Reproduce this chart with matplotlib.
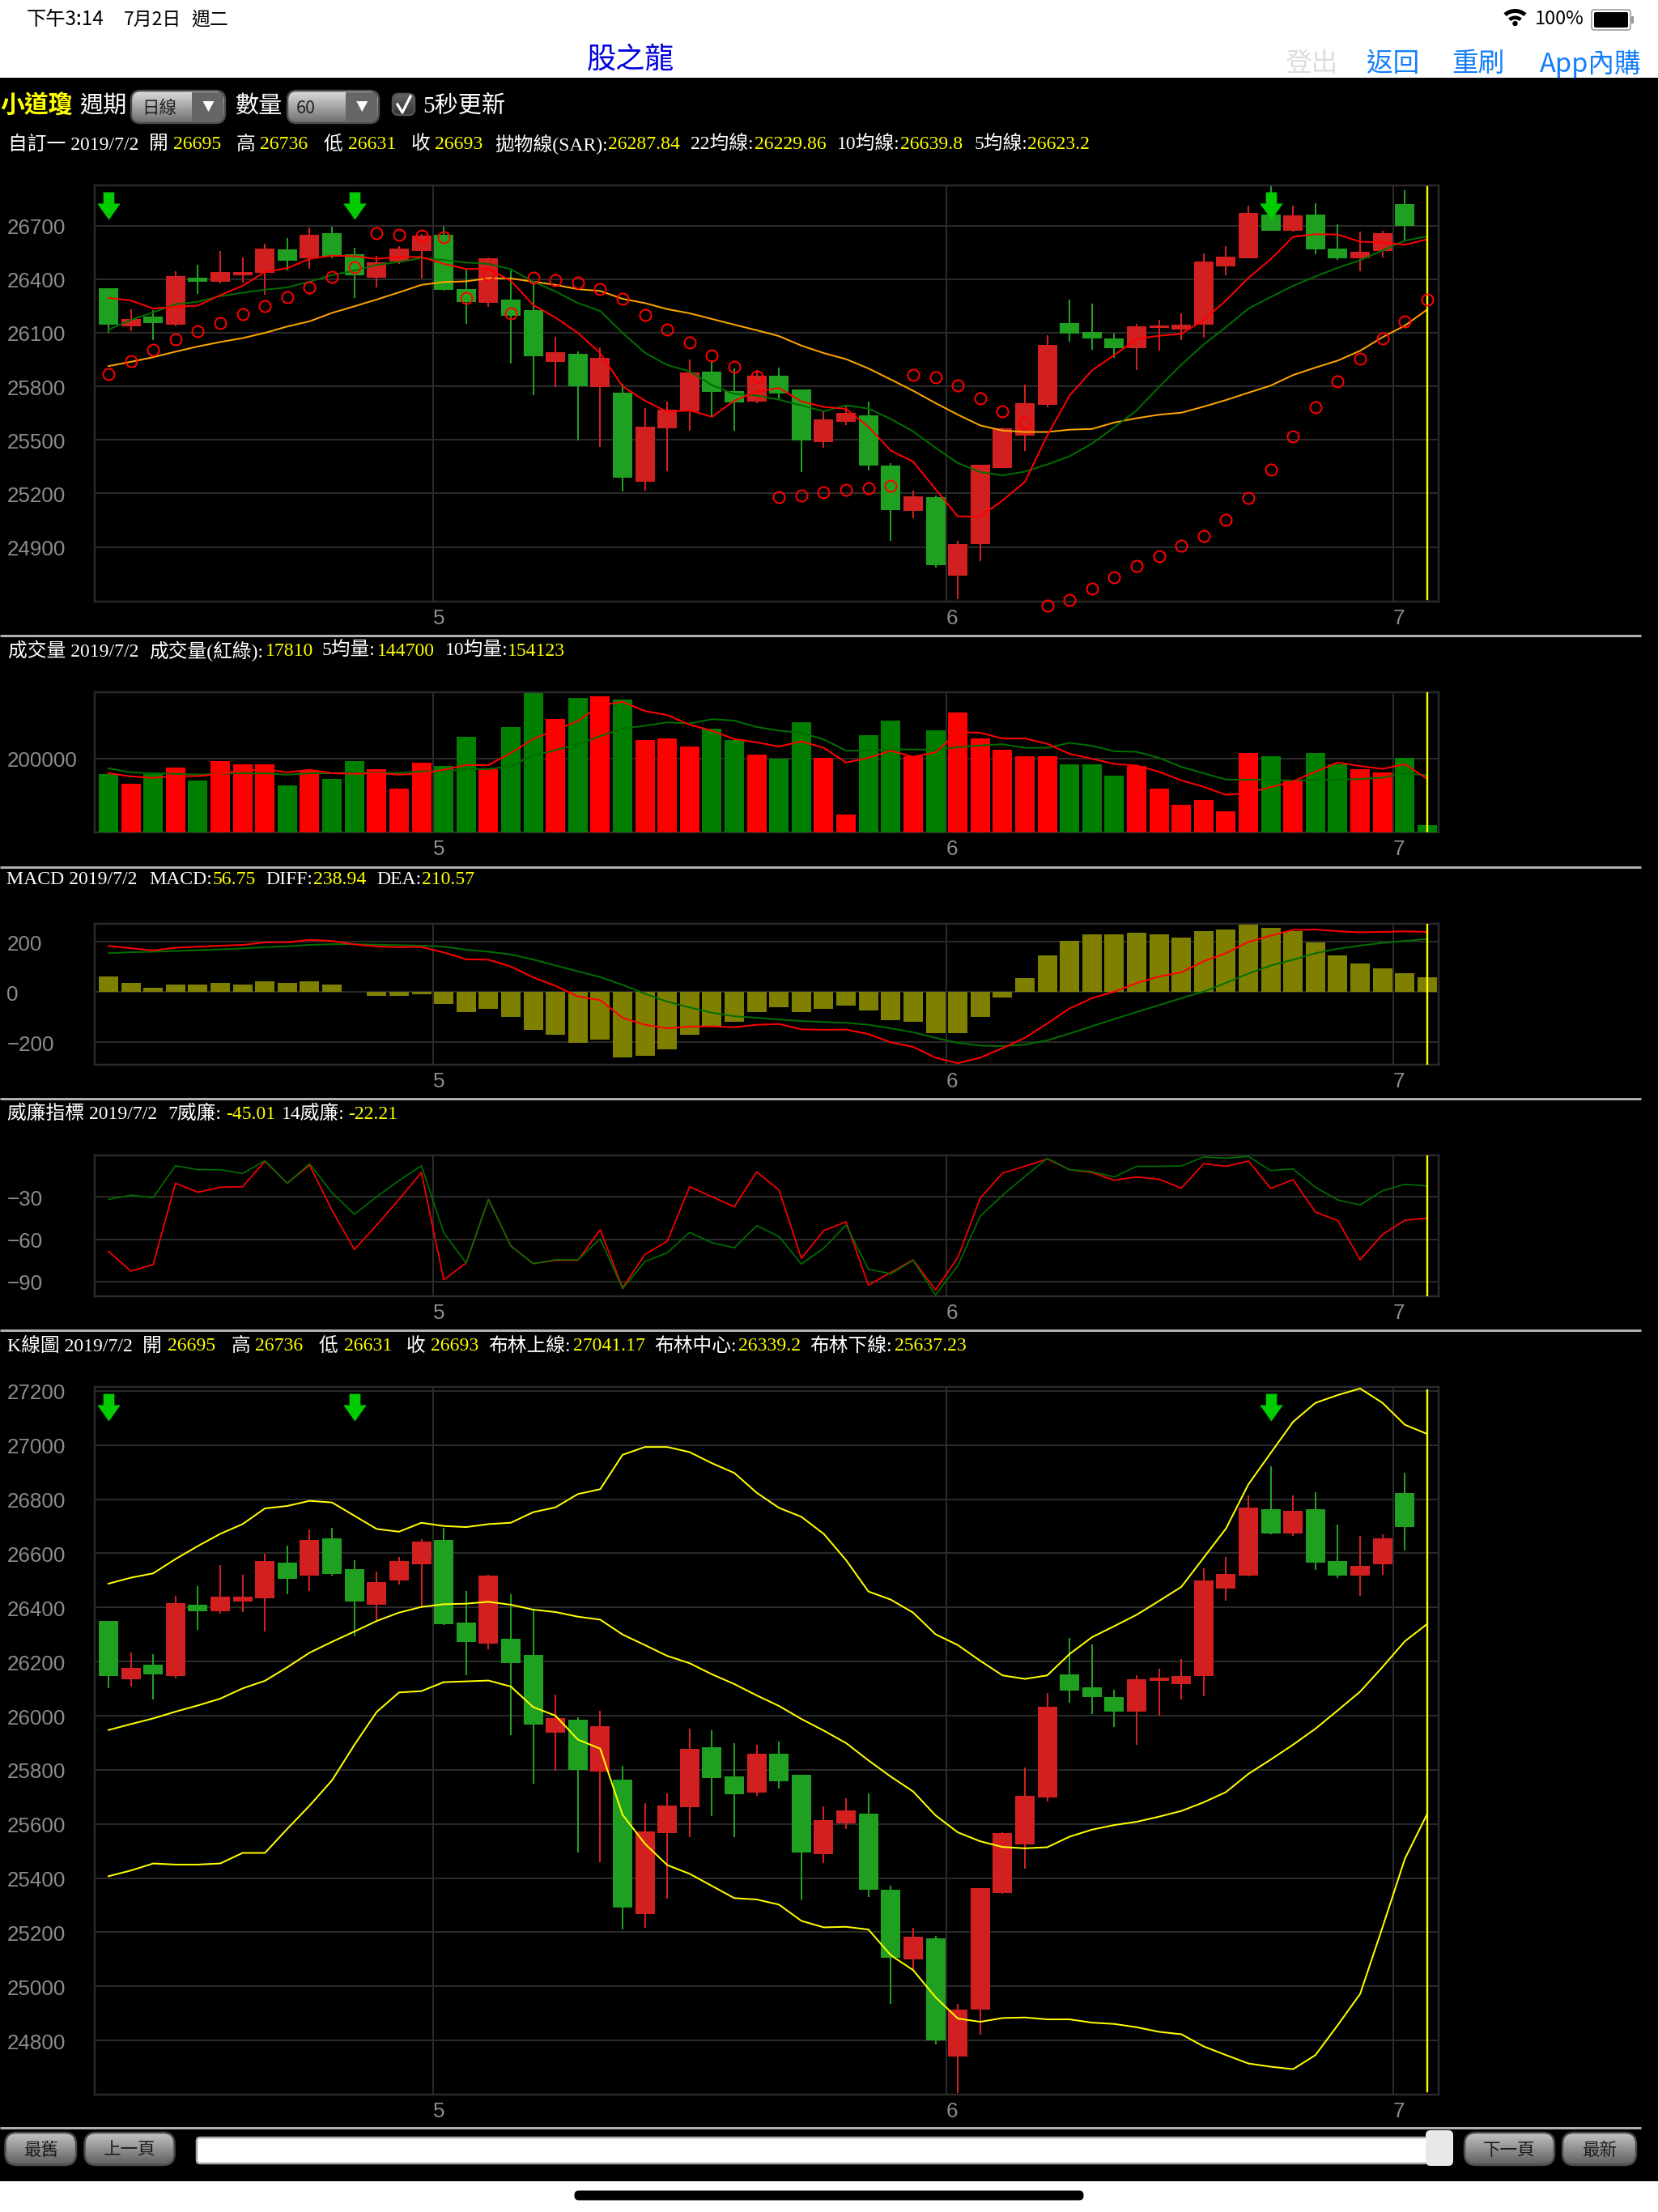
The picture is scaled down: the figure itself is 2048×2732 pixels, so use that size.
import numpy as np
import matplotlib
matplotlib.use('Agg')
import matplotlib.pyplot as plt
from matplotlib.colors import LinearSegmentedColormap
from matplotlib.patches import FancyBboxPatch, Polygon, Rectangle, Wedge, Circle
from matplotlib.path import Path
from matplotlib.transforms import ScaledTranslation

plt.rcParams['font.family'] = ['Liberation Serif', 'Noto Sans CJK TC', 'DejaVu Sans']

# 道瓊日線，最後一根為盤中
last_open, last_high, last_low, last_close = 26695, 26736, 26631, 26693

opens = [26350, 26134, 26189, 26146, 26410, 26386, 26422, 26434, 26565, 26517, 26656, 26541, 26410, 26500, 26560,
         26649, 26343, 26266, 26285, 26225, 25936, 25984, 25794, 25763, 25266, 25565, 25661, 25883, 25775, 25715,
         25859, 25782, 25488, 25601, 25637, 25356, 25100, 25177, 24741, 24914, 25344, 25524, 25697, 26153, 26105,
         26069, 26015, 26129, 26117, 26146, 26471, 26517, 26763, 26673, 26763, 26572, 26517, 26560, 26823]
highs = [26350, 26233, 26227, 26443, 26479, 26556, 26520, 26598, 26629, 26689, 26694, 26575, 26532, 26586, 26653,
         26694, 26460, 26520, 26448, 26390, 26077, 25995, 26017, 25814, 25677, 25713, 25952, 25947, 25898, 25892,
         25904, 25782, 25665, 25694, 25713, 25371, 25216, 25186, 24935, 25362, 25570, 25809, 26084, 26287, 26263,
         26096, 26149, 26173, 26210, 26544, 26586, 26814, 26922, 26814, 26826, 26706, 26665, 26670, 26898]
lows = [26101, 26108, 26060, 26137, 26318, 26378, 26383, 26311, 26448, 26460, 26519, 26294, 26352, 26484, 26402,
        26335, 26149, 26245, 25928, 25749, 25797, 25496, 25460, 25210, 25216, 25323, 25551, 25629, 25551, 25704,
        25730, 25318, 25455, 25582, 25330, 24935, 25060, 24785, 24607, 24821, 25342, 25436, 25682, 26048, 26005,
        25959, 25892, 26000, 26060, 26072, 26424, 26515, 26670, 26665, 26539, 26508, 26443, 26520, 26610]
closes = [26146, 26177, 26153, 26416, 26386, 26440, 26440, 26572, 26505, 26649, 26524, 26422, 26493, 26572, 26644,
          26338, 26273, 26517, 26194, 25967, 25991, 25799, 25960, 25290, 25572, 25668, 25878, 25770, 25709, 25859,
          25758, 25495, 25613, 25649, 25356, 25105, 25182, 24799, 24914, 25362, 25565, 25704, 26032, 26093, 26069,
          26015, 26134, 26141, 26146, 26500, 26524, 26770, 26673, 26757, 26565, 26517, 26553, 26656, 26697]

ma5 = [26295, 26281, 26235, 26245, 26252, 26310, 26363, 26441, 26462, 26514, 26532, 26529, 26514, 26524, 26524,
       26486, 26457, 26459, 26391, 26256, 26185, 26099, 25986, 25800, 25719, 25657, 25665, 25629, 25719, 25770,
       25791, 25715, 25685, 25673, 25573, 25440, 25378, 25224, 25071, 25071, 25160, 25265, 25524, 25748, 25889,
       25975, 26065, 26083, 26094, 26172, 26281, 26407, 26512, 26637, 26652, 26650, 26610, 26605, 26593, 26623.2]
ma10 = [26117, 26172, 26214, 26260, 26273, 26305, 26324, 26341, 26354, 26386, 26423, 26448, 26480, 26496, 26519,
        26507, 26493, 26486, 26456, 26386, 26331, 26266, 26222, 26099, 25988, 25919, 25884, 25806, 25757, 25748,
        25725, 25693, 25660, 25693, 25675, 25617, 25547, 25456, 25370, 25320, 25301, 25322, 25362, 25408, 25479,
        25570, 25665, 25796, 25921, 26034, 26132, 26235, 26300, 26363, 26415, 26464, 26506, 26561, 26616, 26639.8]
ma22 = [25913, 25937, 25963, 25994, 26023, 26048, 26070, 26099, 26135, 26164, 26211, 26248, 26286, 26326, 26368,
        26384, 26388, 26405, 26404, 26386, 26368, 26344, 26334, 26290, 26266, 26232, 26209, 26177, 26145, 26114,
        26081, 26028, 25986, 25952, 25900, 25838, 25775, 25706, 25641, 25581, 25552, 25544, 25544, 25557, 25561,
        25597, 25621, 25641, 25652, 25686, 25723, 25764, 25804, 25863, 25905, 25944, 25999, 26075, 26140, 26229.86]
sar = [25869, 25942, 26005, 26062, 26111, 26154, 26205, 26248, 26299, 26352, 26412, 26465, 26657, 26650, 26644,
       26635, 26297, 26428, 26209, 26410, 26396, 26383, 26346, 26290, 26201, 26120, 26044, 25975, 25910, 25855,
       25178, 25190, 25205, 25218, 25231, 25244, 25866, 25850, 25806, 25732, 25662, 25597, 24572, 24601, 24667,
       24730, 24792, 24850, 24905, 24960, 25053, 25173, 25333, 25519, 25683, 25827, 25953, 26067, 26164, 26287.84]

volume = [157480, 131500, 158270, 175600, 140160, 192900, 184250, 184250, 126770, 166930, 144100, 192900, 170870,
          118110, 188190, 179530, 259050, 170870, 285830, 377950, 307870, 364570, 369290, 360630, 250390, 254330,
          232280, 281100, 250390, 210240, 198420, 298420, 201570, 47240, 263780, 303150, 206300, 276380, 325200,
          254330, 223620, 206300, 206300, 184250, 184250, 153540, 179530, 118110, 74020, 87400, 55910, 214960,
          206300, 140160, 214960, 184250, 170870, 162200, 201570, 17810]
vol_ma5 = [159800, 151200, 147200, 152000, 152000, 158300, 166100, 170900, 162200, 169300, 159800, 158300, 159800,
           155900, 159100, 169300, 181900, 181900, 215000, 252800, 278000, 301600, 344900, 354300, 329100, 318100,
           292100, 275600, 252800, 244100, 232300, 246500, 229100, 189000, 201600, 221300, 204700, 216500, 271700,
           270100, 254300, 254300, 240200, 212600, 199200, 185000, 181100, 163800, 140200, 122800, 100800, 106300,
           122000, 137800, 163800, 189000, 179500, 171700, 184300, 144700]
vol_ma10 = [173200, 162200, 159800, 158300, 155900, 158300, 159800, 159800, 155900, 159800, 159800, 162200, 161400,
            159800, 165400, 165400, 170900, 170900, 179500, 207100, 222800, 238600, 260600, 281900, 289000, 298400,
            295300, 307100, 303100, 285800, 275600, 270100, 252000, 221300, 222000, 225200, 224400, 223600, 230700,
            235400, 238600, 229100, 229100, 242500, 234600, 219700, 218100, 201600, 177200, 159800, 142500, 142500,
            142500, 139400, 142500, 142500, 144100, 148000, 159800, 154123]

macd_hist = [61, 36, 16, 29, 29, 36, 29, 41, 36, 41, 29, 0, -16, -16, -9, -48, -81, -68, -100, -152, -171, -203, -190,
             -262, -255, -229, -171, -138, -120, -81, -61, -81, -68, -55, -74, -113, -120, -165, -165, -100, -23, 55,
             145, 203, 229, 229, 235, 229, 217, 242, 249, 267, 255, 242, 197, 145, 113, 93, 74, 56.75]
macd_diff = [183, 174, 165, 176, 180, 184, 187, 197, 198, 207, 203, 189, 181, 178, 179, 157, 130, 128, 101, 58, 24,
             -18, -33, -103, -131, -145, -138, -137, -141, -131, -128, -149, -151, -150, -168, -201, -219, -262, -284,
             -262, -224, -183, -126, -66, -25, 1, 35, 61, 78, 122, 154, 199, 224, 247, 248, 242, 237, 239, 241, 238.94]
macd_dea = [154, 158, 160, 163, 166, 169, 173, 178, 182, 187, 190, 190, 188, 186, 184, 180, 168, 160, 149, 129, 105,
            82, 59, 28, -7, -39, -62, -83, -97, -103, -110, -116, -120, -123, -131, -145, -161, -183, -203, -214, -216,
            -210, -193, -166, -137, -108, -80, -53, -25, 1, 36, 73, 105, 128, 154, 172, 184, 195, 203, 210.57]

wr7 = [-68.5, -82.5, -77.9, -20.2, -26.6, -23.1, -22.7, -4.7, -20.2, -7.4, -39.4, -67.2, -49.9, -31.7, -12.6, -88.7,
       -76.8, -31.7, -64.7, -77.2, -74.9, -74.9, -53.2, -94.4, -70.6, -61.4, -22.7, -29.8, -36.9, -12.2, -25.0, -73.5,
       -53.8, -47.6, -92.5, -83.5, -74.5, -95.9, -72.9, -30.8, -13.1, -8.2, -3.0, -10.6, -12.6, -18.1, -15.8, -17.4,
       -23.7, -6.4, -8.2, -4.5, -23.9, -17.7, -40.7, -46.7, -74.5, -56.6, -46.5, -45.01]
wr14 = [-31.7, -28.7, -30.4, -7.8, -10.6, -10.6, -13.3, -4.3, -20.2, -6.4, -26.9, -42.3, -29.8, -18.3, -7.8, -55.3,
        -76.8, -31.7, -64.7, -77.2, -74.5, -74.5, -59.5, -95.0, -75.8, -69.5, -55.1, -62.4, -66.0, -50.3, -58.0, -77.5,
        -66.2, -49.9, -81.2, -84.4, -74.9, -99.4, -78.7, -43.6, -28.8, -15.4, -2.6, -10.6, -12.0, -15.8, -8.2, -8.2,
        -8.0, -1.6, -2.4, -1.2, -11.2, -10.1, -23.1, -32.1, -35.6, -25.6, -21.0, -22.21]

boll_up = [26488, 26510, 26526, 26579, 26627, 26672, 26708, 26766, 26775, 26794, 26788, 26739, 26690, 26680, 26713,
           26701, 26697, 26708, 26713, 26752, 26770, 26819, 26837, 26964, 26993, 26993, 26974, 26933, 26897, 26824,
           26768, 26735, 26672, 26575, 26459, 26429, 26381, 26301, 26261, 26203, 26149, 26136, 26149, 26228, 26290,
           26331, 26373, 26424, 26476, 26584, 26692, 26855, 26971, 27086, 27156, 27185, 27209, 27156, 27075, 27041.17]
boll_mid = [25947, 25969, 25990, 26015, 26038, 26063, 26101, 26129, 26179, 26233, 26273, 26311, 26350, 26381, 26402,
            26412, 26414, 26421, 26410, 26392, 26383, 26366, 26355, 26300, 26261, 26221, 26194, 26153, 26117, 26075,
            26036, 25988, 25945, 25899, 25835, 25775, 25720, 25632, 25569, 25536, 25515, 25510, 25514, 25553, 25579,
            25596, 25608, 25627, 25648, 25680, 25718, 25785, 25838, 25893, 25952, 26020, 26089, 26180, 26275, 26339.2]
boll_low = [25407, 25428, 25454, 25450, 25450, 25454, 25493, 25493, 25582, 25668, 25761, 25892, 26014, 26086, 26091,
            26124, 26127, 26130, 26108, 26032, 26000, 25912, 25878, 25634, 25527, 25448, 25416, 25371, 25326, 25321,
            25302, 25242, 25218, 25220, 25210, 25115, 25060, 24960, 24881, 24869, 24883, 24885, 24878, 24878, 24866,
            24861, 24849, 24832, 24823, 24778, 24746, 24715, 24703, 24694, 24746, 24857, 24972, 25218, 25471, 25637.23]

signal_bars = [0, 11, 52]
month_pos = [14.52, 37.49, 57.48]
month_labels = ['5', '6', '7']

W, H = 2048, 2732
C_GRID = '#2a2a2a'
C_TICK = '#8c8c8c'
C_UP, C_DOWN = '#d22020', '#20a020'
C_YEL = '#ffff00'
SANS = ['Noto Sans CJK TC', 'DejaVu Sans']
MIXED = ['Liberation Serif', 'Noto Sans CJK TC']
px = 0.72  # 1 px 換成 pt (dpi=100)

fig = plt.figure(figsize=(W / 100, H / 100), dpi=100, facecolor='white')

# 介面層，座標直接用像素
ui = fig.add_axes([0, 0, 1, 1], zorder=0)
ui.set_xlim(0, W)
ui.set_ylim(H, 0)
ui.set_autoscale_on(False)
ui.axis('off')
ui.add_patch(Rectangle((0, 96), W, 2598, fc='black', ec='none'))


def pill(x0, y0, x1, y1, r, top, bot, edge='#4a4a4a'):
    box = FancyBboxPatch((x0 + r, y0 + r), x1 - x0 - 2 * r, y1 - y0 - 2 * r, boxstyle=f'round,pad={r}',
                         fc='none', ec=edge, lw=2.5 * px, zorder=4)
    ui.add_patch(box)
    cm = LinearSegmentedColormap.from_list('btn', [top, bot])
    im = ui.imshow(np.linspace(0, 1, 64).reshape(-1, 1), extent=[x0, x1, y1, y0], aspect='auto', cmap=cm, zorder=3)
    im.set_clip_path(box)


def header_row(y, title, x_title, pairs):
    ui.text(x_title, y, title, color='white', fontsize=17.1, family=MIXED, va='center', zorder=5)
    for i, (x, s) in enumerate(pairs):
        ui.text(x, y, s, color='white' if i % 2 == 0 else C_YEL, fontsize=17.1, family=MIXED, va='center', zorder=5)


# 狀態列
ui.text(33, 24, '下午3:14', fontsize=17.5, family=SANS, va='center', color='black')
ui.text(153, 24, '7月2日', fontsize=16.5, family=SANS, va='center', color='black')
ui.text(236, 24, '週二', fontsize=16.5, family=SANS, va='center', color='black')
ui.text(1896, 24, '100%', fontsize=17, family=SANS, va='center', color='black')
for r0, r1 in [(21, 16), (12.5, 8)]:
    ui.add_patch(Wedge((1871.5, 32), r0, 228, 312, width=r0 - r1, fc='black', ec='none'))
ui.add_patch(Circle((1871.5, 29), 3.2, fc='black', ec='none'))
ui.add_patch(FancyBboxPatch((1969, 15), 42, 19, boxstyle='round,pad=3', fc='none', ec='#999999', lw=1.6 * px))
ui.add_patch(FancyBboxPatch((1971, 17), 38, 15, boxstyle='round,pad=2', fc='black', ec='none'))
ui.add_patch(Rectangle((2015, 20), 2.5, 9, fc='#999999', ec='none'))

# 導覽列
ui.text(779, 74, '股之龍', fontsize=26, family=SANS, ha='center', va='center', color='#0000dd')
ui.text(1587, 79, '登出', fontsize=23.5, family=SANS, va='center', color='#dddddd')
for x, s in [(1688, '返回'), (1793, '重刷'), (1902, 'App內購')]:
    ui.text(x, 79, s, fontsize=23.5, family=SANS, va='center', color='#147efb')

# 控制列
ui.text(0, 131, '小道瓊', fontsize=21.5, family=SANS, weight='bold', va='center', color=C_YEL)
ui.text(98, 131, '週期', fontsize=21, family=SANS, va='center', color='white')
ui.text(291, 131, '數量', fontsize=21, family=SANS, va='center', color='white')
ui.text(522, 131, '5秒更新', fontsize=21, family=MIXED, va='center', color='white')
for x0, xd, x1, label, xt in [(162, 237, 278, '日線', 175), (355, 426.5, 468, '60', 366)]:
    pill(x0, 112, x1, 152, 11, '#dcdcdc', '#6e6e6e')
    ui.add_patch(Rectangle((xd, 114), x1 - xd - 2, 36, fc='#666666', ec='none', zorder=3.5))
    ui.text(xt, 134, label, fontsize=15.5, family=SANS, va='center', color='#222222', zorder=5)
    xm = (xd + x1) / 2
    ui.add_patch(Polygon([(xm - 7, 125), (xm + 7, 125), (xm, 138)], fc='white', ec='none', zorder=5))
pill(485, 116, 512, 142, 7, '#666666', '#333333', edge='#555555')
ui.plot([491, 497, 507], [129, 139, 119], color='white', lw=3.2 * px, zorder=6)

# 各區塊標題
header_row(178.5, '自訂一 2019/7/2', 10,
           [(184, '開'), (214, f'{last_open}'), (292, '高'), (321, f'{last_high}'),
            (400, '低'), (430, f'{last_low}'), (508, '收'), (537, f'{last_close}'),
            (611, '拋物線(SAR):'), (751, f'{sar[-1]}'), (853, '22均線:'), (932, f'{ma22[-1]}'),
            (1034, '10均線:'), (1112, f'{ma10[-1]}'), (1204, '5均線:'), (1269, f'{ma5[-1]}')])
header_row(804, '成交量 2019/7/2', 10,
           [(184, '成交量(紅綠):'), (328, f'{volume[-1]}'), (398, '5均量:'),
            (466, f'{vol_ma5[-1]}'), (550, '10均量:'), (627, f'{vol_ma10[-1]}')])
header_row(1086, 'MACD 2019/7/2', 8,
           [(184, 'MACD:'), (263, f'{macd_hist[-1]}'), (328, 'DIFF:'),
            (387, f'{macd_diff[-1]}'), (465, 'DEA:'), (521, f'{macd_dea[-1]}')])
header_row(1376, '威廉指標 2019/7/2', 9,
           [(207, '7威廉:'), (279, f'{wr7[-1]}'), (348, '14威廉:'), (430, f'{wr14[-1]}')])
header_row(1663, 'K線圖 2019/7/2', 9,
           [(176, '開'), (207, f'{last_open}'), (286, '高'), (315, f'{last_high}'),
            (394, '低'), (425, f'{last_low}'), (502, '收'), (532, f'{last_close}'),
            (603, '布林上線:'), (708, f'{boll_up[-1]}'), (808, '布林中心:'), (912, f'{boll_mid[-1]}'),
            (1000, '布林下線:'), (1105, f'{boll_low[-1]}')])

# 區塊分隔線
for y in [785, 1071, 1356.5, 1642.5, 2628]:
    ui.plot([0, 2027], [y, y], color='#b0b0b0', lw=3 * px, solid_capstyle='butt', zorder=2)

# 底部按鈕與捲軸
for x0, x1, s in [(6.5, 94, '最舊'), (104.5, 215.5, '上一頁'), (1809, 1920, '下一頁'), (1930, 2021, '最新')]:
    pill(x0, 2634, x1, 2674, 14, '#c4c4c4', '#5e5e5e')
    ui.text((x0 + x1) / 2, 2656, s, fontsize=15.5, family=SANS, ha='center', va='center', color='#1c1c1c', zorder=5)
ui.add_patch(FancyBboxPatch((247, 2644), 1512, 24, boxstyle='round,pad=4', fc='white', ec='#aaaaaa', lw=2.5 * px, zorder=3))
ui.add_patch(FancyBboxPatch((1767, 2637), 22, 32, boxstyle='round,pad=6', fc='#e8e8e8', ec='none', zorder=4))
ui.add_patch(FancyBboxPatch((715, 2711), 618, 1, boxstyle='round,pad=5.5', fc='black', ec='none'))

# K 棒共用
xs = np.arange(len(ma5))
cx = xs[:len(opens)]
o, h, l, c = map(np.array, (opens, highs, lows, closes))
candle_col = np.where(c > o, C_UP, C_DOWN)
vol_col = np.where(np.append(c, last_close) > np.append(o, last_open), '#ff0000', '#007f00')
arrow_marker = Path([(-0.4, 1), (0.4, 1), (0.4, 0.18), (0.84, 0.18), (0, -1), (-0.84, 0.18), (-0.4, 0.18), (-0.4, 1)],
                    closed=True)
label_shift = ScaledTranslation(0, -1 / 100, fig.dpi_scale_trans)


def panel(top, bottom, ylim, yticks):
    ax = fig.add_axes([116.6 / W, 1 - bottom / H, (1777 - 116.6) / W, (bottom - top) / H], facecolor='black', zorder=1)
    ax.set_xlim(-0.63, 59.51)
    ax.set_ylim(*ylim)
    ax.set_xticks(month_pos, month_labels, family='Liberation Sans', ha='left')
    ax.set_yticks(yticks, [f'{t}'.replace('-', '\u2212') for t in yticks], family='Liberation Sans', ha='left')
    ax.tick_params(axis='x', length=0, labelsize=18.7, labelcolor=C_TICK, pad=6.5)
    ax.tick_params(axis='y', length=0, labelsize=18.7, labelcolor=C_TICK, pad=78)
    for lab in ax.get_yticklabels():
        lab.set_transform(lab.get_transform() + label_shift)
    ax.grid(True, color=C_GRID, lw=2 * px)
    ax.set_axisbelow(True)
    for sp in ax.spines.values():
        sp.set_color(C_GRID)
        sp.set_linewidth(2.5 * px)
    ax.axvline(59, ymin=0.005, ymax=0.995, color=C_YEL, lw=2.4 * px, zorder=6)
    return ax


def draw_candles(ax):
    ax.vlines(cx, l, h, colors=candle_col, lw=2 * px, zorder=3)
    ax.bar(cx, np.abs(c - o), bottom=np.minimum(o, c), width=0.87, color=candle_col, zorder=3)


def draw_signals(ax, y):
    ax.plot(signal_bars, [y] * len(signal_bars), ls='none', marker=arrow_marker, ms=34 * px,
            mfc='#00cc00', mec='none', zorder=7)


# 均線與 SAR
ax1 = panel(228.6, 743, (24594, 26927), list(range(26700, 24800, -300)))
draw_candles(ax1)
ax1.plot(xs, ma22, color='#ffa500', lw=2 * px, zorder=4)
ax1.plot(xs, ma10, color='#006e00', lw=2 * px, zorder=4)
ax1.plot(xs, ma5, color='#ff0000', lw=2 * px, zorder=5)
ax1.plot(xs, sar, ls='none', marker='o', ms=14 * px, mfc='none', mec='#ff0000', mew=2 * px, zorder=6, clip_on=False)
draw_signals(ax1, 26812)

# 成交量
ax2 = panel(855, 1028.2, (-1543, 380300), [200000])
ax2.bar(xs, volume, width=0.87, color=vol_col, zorder=3)
ax2.plot(xs, vol_ma10, color='#006e00', lw=2 * px, zorder=4)
ax2.plot(xs, vol_ma5, color='#ff0000', lw=2 * px, zorder=5)

# MACD
ax3 = panel(1140.7, 1315, (-290, 272), [200, 0, -200])
ax3.bar(xs, macd_hist, width=0.87, color='#808000', zorder=3)
ax3.plot(xs, macd_dea, color='#006e00', lw=2 * px, zorder=4)
ax3.plot(xs, macd_diff, color='#ff0000', lw=2 * px, zorder=5)

# 威廉指標
ax4 = panel(1427, 1600.7, (-100.2, -0.48), [-30, -60, -90])
ax4.plot(xs, wr7, color='#ff0000', lw=1.7 * px, zorder=4)
ax4.plot(xs, wr14, color='#006e00', lw=1.7 * px, zorder=5)

# 布林通道
ax5 = panel(1712.6, 2587, (24600, 27216), list(range(27200, 24700, -200)))
draw_candles(ax5)
for band in (boll_up, boll_mid, boll_low):
    ax5.plot(xs, band, color=C_YEL, lw=2 * px, zorder=5)
draw_signals(ax5, 27140)

fig.savefig('out.png', dpi=100, facecolor='white')
